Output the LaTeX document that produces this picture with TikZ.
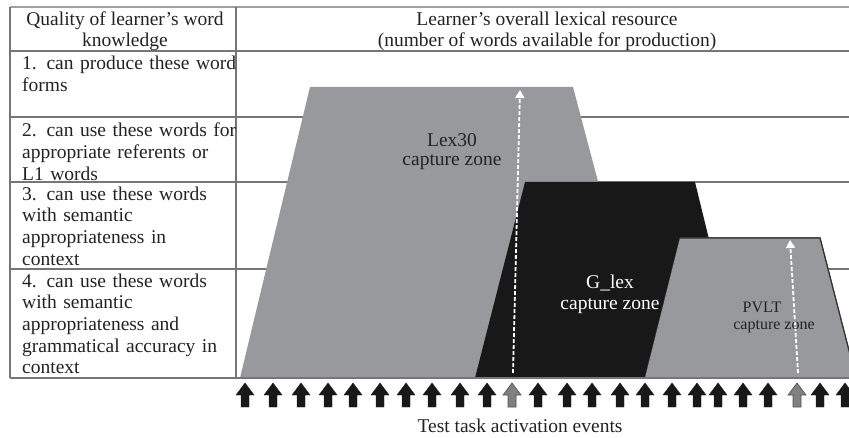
\documentclass[tikz,border=0pt]{standalone}
\usepackage{fontspec}
\setmainfont{Liberation Serif}
\usetikzlibrary{arrows.meta}
\definecolor{zonegrey}{RGB}{152,153,156}
\definecolor{zoneblack}{RGB}{24,24,24}
\definecolor{rulegrey}{RGB}{118,118,120}
\definecolor{toprule}{RGB}{160,160,162}
\definecolor{txt}{RGB}{35,35,35}
\definecolor{evgrey}{RGB}{128,128,132}
\definecolor{evgreyline}{RGB}{80,80,84}
\definecolor{pvltline}{RGB}{50,50,52}
\begin{document}
\begin{tikzpicture}[x=1pt,y=-1pt,
  rowtext/.style={anchor=north west,inner sep=0pt,text width=225pt,align=left,
    font=\fontsize{19.5}{21.7}\selectfont,text=txt},
  headtext/.style={anchor=base,inner sep=0pt,font=\fontsize{19.5}{21}\selectfont,text=txt},
  tablerule/.style={draw=rulegrey,line width=1.3pt},
  zonelabel/.style={anchor=base,inner sep=0pt,font=\fontsize{19.5}{20}\selectfont},
  smalllabel/.style={anchor=base,inner sep=0pt,font=\fontsize{16}{18}\selectfont,text=txt},
  capturearrow/.style={draw=white,line width=1.8pt,dash pattern=on 4pt off 2pt,
    -{Triangle[width=9pt,length=8pt,fill=white]}},
  evarrow/.pic={\path[pic actions] (-4,0) -- (-4,-12) -- (-9,-12) -- (0,-24)
      -- (9,-12) -- (4,-12) -- (4,0) -- cycle;},
  blackev/.style={fill=zoneblack,draw=zoneblack,line width=0.4pt},
  greyev/.style={fill=evgrey,draw=evgreyline,line width=0.6pt}]
\useasboundingbox (0,0) rectangle (849,438);
\begin{scope}
\clip (0,0) rectangle (849,438);
% horizontal table rules (behind the zones)
\draw[draw=toprule,line width=1.8pt] (10,7) -- (849,7);
\foreach \yy in {51,117,182,269}{\draw[tablerule] (10,\yy) -- (849,\yy);}
% zones
\fill[zonegrey] (240,378) -- (310,87) -- (573,87) -- (650,378) -- cycle;
\fill[zoneblack] (475,378) -- (525,182) -- (695,182) -- (743,378) -- cycle;
\filldraw[fill=zonegrey,draw=pvltline,line width=1.2pt] (645,378) -- (680,238) -- (820,238) -- (856,378);
\fill[zonegrey] (645,378) -- (680,238) -- (820,238) -- (856,378) -- cycle;
\draw[draw=pvltline,line width=1.2pt] (680,238) -- (820,238) -- (856,378);
% vertical rules and bottom rule
\draw[tablerule] (10,7) -- (10,378);
\draw[tablerule] (236,7) -- (236,378);
\draw[tablerule] (10,378) -- (849,378);
% capture arrows
\coordinate (lexbot) at (513,373);
\coordinate (lextop) at (520,90);
\coordinate (pvltbot) at (798,373);
\coordinate (pvlttop) at (790,240);
\draw[capturearrow] (lexbot) -- (lextop);
\draw[capturearrow] (pvltbot) -- (pvlttop);
% event arrows
\foreach \xx in {245,273,301,328,353,380,406,432,460,487,538,567,592,620,645,672,697,718,743,768,820,845}
  {\pic[blackev] at (\xx,407) {evarrow};}
\foreach \xx in {512,797}
  {\pic[greyev] at (\xx,407) {evarrow};}
\end{scope}
% header
\node[headtext] (hq1) at (125,26) {Quality of learner’s word};
\node[headtext] (hq2) at (125,47) {knowledge};
\node[headtext] (hl1) at (547,26) {Learner’s overall lexical resource};
\node[headtext] (hl2) at (547,47) {(number of words available for production)};
% rows
\node[rowtext] (r1) at (22,55.5) {\rule{0pt}{14pt}1. can produce these word\\forms};
\node[rowtext] (r2) at (22,122.5) {\rule{0pt}{14pt}2. can use these words for\\appropriate referents or\\L1 words};
\node[rowtext] (r3) at (22,186) {\rule{0pt}{14pt}3. can use these words\\with semantic\\appropriateness in\\context};
\node[rowtext] (r4) at (22,273) {\rule{0pt}{14pt}4. can use these words\\with semantic\\appropriateness and\\grammatical accuracy in\\context};
% zone labels
\node[zonelabel,text=txt] (lexa) at (452,147) {Lex30};
\node[zonelabel,text=txt] (lexb) at (452,166) {capture zone};
\node[zonelabel,text=white] (gla) at (610,289) {G\_lex};
\node[zonelabel,text=white] (glb) at (610,310) {capture zone};
\node[smalllabel] (pva) at (762,313) {PVLT};
\node[smalllabel] (pvb) at (774,330) {capture zone};
% caption
\node[headtext] (cap) at (520,432) {Test task activation events};
\end{tikzpicture}
\end{document}
